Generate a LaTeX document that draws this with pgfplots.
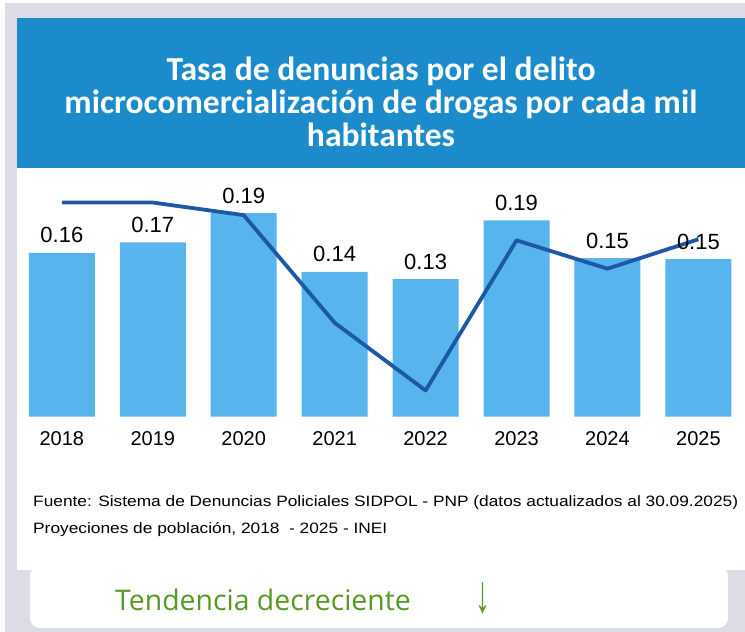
\documentclass[border=0pt]{standalone}
\usepackage{pgfplots}
\pgfplotsset{compat=1.18}
\usepackage{pgfplotstable}
\usepackage{fontspec}
\setmainfont{Liberation Sans}
\newfontfamily\titlefont{Carlito}
\newfontfamily\greenfont{Open Sans}
\definecolor{banner}{RGB}{27,139,203}
\definecolor{barblue}{RGB}{88,180,236}
\definecolor{lineblue}{RGB}{28,88,166}
\definecolor{framegray}{RGB}{220,220,230}
\definecolor{trendgreen}{RGB}{86,154,36}

\pgfplotstableread{
x rate
0 0.156
1 0.166
2 0.194
3 0.138
4 0.131
5 0.187
6 0.151
7 0.150
}\bardata
\pgfplotstableread{
x trend
0 0.204
1 0.204
2 0.192
3 0.0895
4 0.025
5 0.168
6 0.141
7 0.169
}\trenddata

\begin{document}
\begin{tikzpicture}[x=1bp,y=1bp]
\fill[white] (0,0) rectangle (745,632);
\fill[framegray] (5,0) rectangle (745,629);
\fill[white] (17,62) rectangle (745,614);
\fill[banner] (17,464) rectangle (745,614);
\fill[white, rounded corners=10bp] (30,4) rectangle (728,66);
\node[align=center, text=white, font=\titlefont\bfseries\fontsize{33.6bp}{33bp}\selectfont] at (381,530)
  {Tasa de denuncias por el delito\\microcomercialización de drogas por cada mil\\habitantes};
\node[anchor=base west, inner sep=0pt, font=\fontsize{15bp}{16bp}\selectfont] at (33,125)
  {\scalebox{1.154}[1]{Fuente: Sistema de Denuncias Policiales SIDPOL - PNP (datos actualizados al 30.09.2025)}};
\node[anchor=base west, inner sep=0pt, font=\fontsize{15bp}{16bp}\selectfont] at (33,98)
  {\scalebox{1.154}[1]{Proyeciones de población, 2018\ \ - 2025 - INEI}};
\node[anchor=base west, inner sep=0pt, text=trendgreen, font=\greenfont\fontsize{28.4bp}{30bp}\selectfont] at (115,21)
  {Tendencia decreciente};
\node[text=trendgreen, inner sep=0pt, font=\fontsize{40bp}{44bp}\selectfont] at (483,33.5) {\scalebox{0.75}[1.32]{↓}};
\begin{axis}[
  at={(18,205)}, anchor=south west, scale only axis,
  width=727.5bp, height=231bp,
  xmin=-0.5, xmax=7.5, ymin=0, ymax=0.22,
  axis line style={draw=none}, major tick length=0pt,
  ytick=\empty,
  xtick={0,...,7},
  xticklabels={2018,2019,2020,2021,2022,2023,2024,2025},
  xticklabel style={font=\fontsize{20bp}{24bp}\selectfont, anchor=base, yshift=-29bp, inner sep=0pt},
  clip=false,
  /pgf/number format/assume math mode=true,
]
\addplot[ybar, bar width=0.726, fill=barblue, draw=none,
  nodes near coords={\pgfmathprintnumber[fixed,fixed zerofill,precision=2]{\pgfplotspointmeta}},
  every node near coord/.append style={anchor=base, yshift=10bp, inner sep=0pt, font=\fontsize{22bp}{24bp}\selectfont, text=black}]
  table[x=x, y=rate] {\bardata};
\addplot[lineblue, line width=3.8bp, line join=round, mark=none] table[x=x, y=trend] {\trenddata};
\end{axis}
\end{tikzpicture}
\end{document}
